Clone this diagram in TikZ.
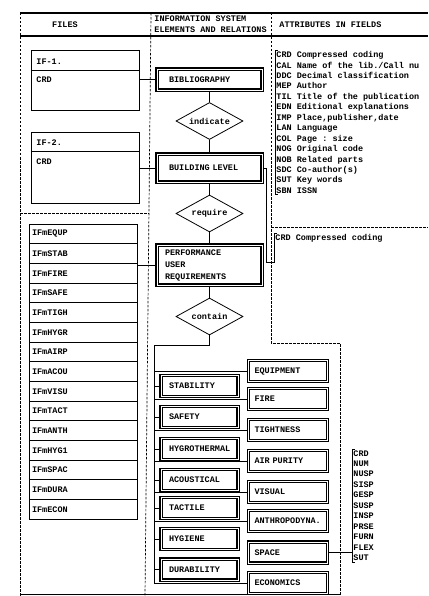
\documentclass[tikz,border=0pt]{standalone}
\usepackage{fontspec}
\setmonofont{Liberation Mono}
\usetikzlibrary{shapes.geometric}

\begin{document}
\begin{tikzpicture}[x=1pt, y=-1pt, line width=0.8pt,
  txt/.style={font=\ttfamily\bfseries\fontsize{8.5}{10.45}\selectfont, inner sep=1pt},
  frameline/.style={line width=1.8pt},
  divider/.style={dash pattern=on 2.5pt off 1.5pt, line width=0.7pt},
  filebox/.style={draw, minimum width=108pt},
  filerow/.style={txt, draw, minimum height=19.67pt, text width=102pt, inner xsep=3pt, align=left},
  thickbox/.style={txt, draw, double, line width=1.3pt, double distance=0.6pt, align=left, minimum height=21pt},
  mainbox/.style={thickbox, text width=81pt, inner xsep=12pt},
  leftbox/.style={thickbox, text width=61pt, inner xsep=8pt},
  rightbox/.style={thickbox, text width=67pt, inner xsep=6pt},
  relation/.style={txt, draw, shape=diamond, aspect=1.8, minimum width=67pt, minimum height=37pt, inner sep=0pt},
  attr/.style={txt, anchor=north west, align=left}]
\useasboundingbox (0,0) rectangle (428,596);

% Draw frame and headers.
\draw[frameline] (20,13) -- (428,13);
\draw[frameline] (20,36) -- (428,36);
\draw (20,594) -- (340,594);
\draw[divider] (20,13) -- (20,596);
\draw[divider] (151,13) -- (145,596);
\draw[divider] (271,13) -- (271,343) -- (340,343) -- (340,596);
\draw[divider] (20,213) -- (149,213);
\draw[divider] (271,227) -- (428,227);

\node[txt] (hfiles) at (65,24.5) {FILES};
\node[txt, anchor=west, align=left, font=\ttfamily\bfseries\fontsize{8.5}{11}\selectfont] (hsystem) at (153,24.5) {INFORMATION SYSTEM\\ELEMENTS AND RELATIONS};
\node[txt, anchor=west] (hattr) at (278,25) {ATTRIBUTES IN FIELDS};

% Draw files.
\node[filebox, minimum height=60pt] (if1) at (85,80) {};
\draw ([yshift=-21pt]if1.north west) -- ([yshift=-21pt]if1.north east);
\node[txt, anchor=west] (if1name) at (35,61.5) {IF-1.};
\node[txt, anchor=west] (if1crd) at (35,79.5) {CRD};

\node[filebox, minimum height=71pt] (if2) at (85,167.5) {};
\draw ([yshift=-20pt]if2.north west) -- ([yshift=-20pt]if2.north east);
\node[txt, anchor=west] (if2name) at (35,142.5) {IF-2.};
\node[txt, anchor=west] (if2crd) at (35,161.5) {CRD};

\node[filerow] (ifequp) at (83,233.8) {IFmEQUP};
\node[filerow] (ifstab) at (83,253.5) {IFmSTAB};
\node[filerow] (iffire) at (83,273.2) {IFmFIRE};
\node[filerow] (ifsafe) at (83,292.8) {IFmSAFE};
\node[filerow] (iftigh) at (83,312.5) {IFmTIGH};
\node[filerow] (ifhygr) at (83,332.2) {IFmHYGR};
\node[filerow] (ifairp) at (83,351.8) {IFmAIRP};
\node[filerow] (ifacou) at (83,371.5) {IFmACOU};
\node[filerow] (ifvisu) at (83,391.2) {IFmVISU};
\node[filerow] (iftact) at (83,410.8) {IFmTACT};
\node[filerow] (ifanth) at (83,430.5) {IFmANTH};
\node[filerow] (ifhyg1) at (83,450.2) {IFmHYG1};
\node[filerow] (ifspac) at (83,469.8) {IFmSPAC};
\node[filerow] (ifdura) at (83,489.5) {IFmDURA};
\node[filerow] (ifecon) at (83,509.2) {IFmECON};

% Draw elements and relations.
\node[mainbox] (bib) at (209.5,79.5) {BIBLIOGRAPHY};
\node[relation] (indicate) at (209.5,121) {indicate};
\node[mainbox, minimum height=28pt] (bld) at (209.5,168) {BUILDING LEVEL};
\node[relation] (require) at (209.5,213.5) {require};
\node[thickbox, text width=89pt, inner xsep=8pt, minimum height=40pt, font=\ttfamily\bfseries\fontsize{8.5}{12}\selectfont] (perf) at (209.5,265) {PERFORMANCE\\USER\\REQUIREMENTS};
\node[relation] (contain) at (209.5,316.5) {contain};

\draw (bib) -- (indicate);
\draw (indicate) -- (bld);
\draw (bld) -- (require);
\draw (require) -- (perf);
\draw (perf) -- (contain);

\draw (bib.west) -- (bib.west -| if1.east);
\draw (bld.west) -- (bld.west -| if2.east);
\draw (perf.west) -- (perf.west -| ifstab.east);

% Draw performance requirements.
\node[leftbox] (stab) at (199.5,386) {STABILITY};
\node[leftbox] (safe) at (199.5,417) {SAFETY};
\node[leftbox] (hygro) at (199.5,449) {HYGROTHERMAL};
\node[leftbox] (acou) at (199.5,480) {ACOUSTICAL};
\node[leftbox] (tact) at (199.5,508) {TACTILE};
\node[leftbox] (hygi) at (199.5,539) {HYGIENE};
\node[leftbox] (dura) at (199.5,569.5) {DURABILITY};

\node[rightbox] (equip) at (288,371) {EQUIPMENT};
\node[rightbox] (fire) at (288,399) {FIRE};
\node[rightbox] (tight) at (288,430) {TIGHTNESS};
\node[rightbox] (airp) at (288,461) {AIR PURITY};
\node[rightbox] (visu) at (288,492) {VISUAL};
\node[rightbox] (anth) at (288,521) {ANTHROPODYNA.};
\node[rightbox] (spc) at (288,552.5) {SPACE};
\node[rightbox] (econ) at (288,583) {ECONOMICS};

\coordinate (bustop) at (154,345);
\draw (contain.south) |- (bustop) |- (econ.west);

\draw (stab.west) -- (stab.west -| bustop);
\draw (safe.west) -- (safe.west -| bustop);
\draw (hygro.west) -- (hygro.west -| bustop);
\draw (acou.west) -- (acou.west -| bustop);
\draw (tact.west) -- (tact.west -| bustop);
\draw (hygi.west) -- (hygi.west -| bustop);
\draw (dura.west) -- (dura.west -| bustop);

\draw (equip.west) -- (equip.west -| bustop);
\draw (fire.west) -- (fire.west -| bustop);
\draw (tight.west) -- (tight.west -| bustop);
\draw (airp.west) -- (airp.west -| bustop);
\draw (visu.west) -- (visu.west -| bustop);
\draw (anth.west) -- (anth.west -| bustop);

% Draw attributes.
\node[attr] (attbib) at (275,50) {CRD Compressed coding\\CAL Name of the lib./Call nu\\DDC Decimal classification\\MEP Author\\TIL Title of the publication\\EDN Editional explanations\\IMP Place,publisher,date\\LAN Language\\COL Page : size\\NOG Original code\\NOB Related parts\\SDC Co-author(s)\\SUT Key words\\SBN ISSN};
\draw ([xshift=2.5pt]attbib.north west) -- (attbib.north west) -- (attbib.south west) -- ([xshift=2.5pt]attbib.south west);

\node[attr] (attcrd) at (274,233) {CRD Compressed coding};
\coordinate (crdbot) at (272,262);
\draw ([xshift=2.5pt]attcrd.north west) -- (attcrd.north west) |- (crdbot);
\draw (bld.east) -- ++(4,0) |- (crdbot);

\node[attr] (attspc) at (352,449) {CRD\\NUM\\NUSP\\SISP\\GESP\\SUSP\\INSP\\PRSE\\FURN\\FLEX\\SUT};
\draw ([xshift=2.5pt]attspc.north west) -- (attspc.north west) -- (attspc.south west) -- ([xshift=2.5pt]attspc.south west);
\draw (spc.east) -- (spc.east -| attspc.west);

\end{tikzpicture}
\end{document}
